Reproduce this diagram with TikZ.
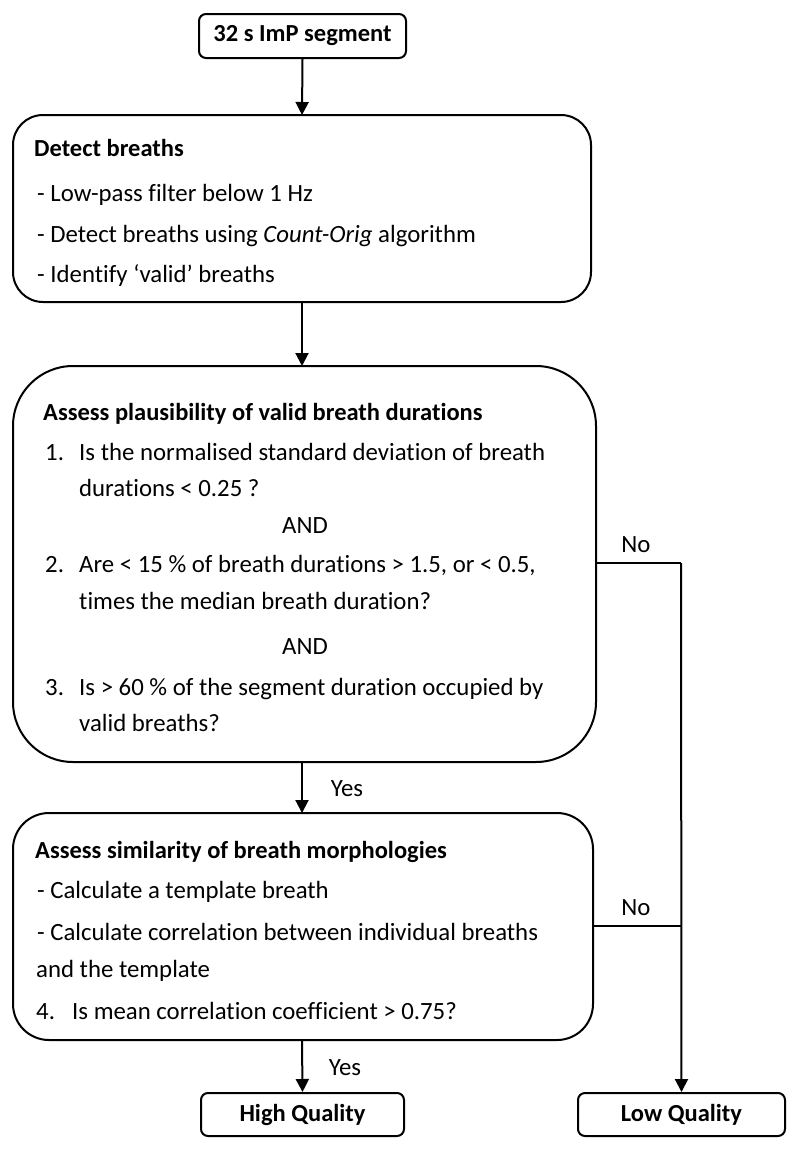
\documentclass[tikz,border=0pt]{standalone}
\usepackage{fontspec}
\setmainfont{Carlito}[Ligatures=NoCommon]
\usetikzlibrary{arrows.meta}
\begin{document}
\begin{tikzpicture}[x=1pt,y=-1pt,
  box/.style={draw,line width=2pt},
  txt/.style={anchor=base west,inner sep=0pt,font=\fontsize{24.8}{29}\selectfont},
  btxt/.style={txt,font=\fontsize{24.5}{29}\selectfont\bfseries},
  lab/.style={inner sep=0pt,font=\fontsize{24.8}{29}\selectfont},
  endbox/.style={box,rounded corners=7pt,minimum height=43pt,inner sep=0pt,font=\fontsize{24.5}{29}\selectfont\bfseries},
  arr/.style={line width=2pt,-{Triangle[width=13pt,length=13pt]}},
  ln/.style={line width=2pt}]
\useasboundingbox (0,0) rectangle (800,1152);
% boxes
\node[endbox,minimum width=207pt,minimum height=44pt] (seg) at (302.5,36) {32 s ImP segment};
\draw[box,rounded corners=30pt] (13,115) rectangle (591,302);
\coordinate (detT) at (302,115);
\coordinate (detB) at (302,302);
\draw[box,rounded corners=60pt] (13,366) rectangle (596,762);
\coordinate (plaT) at (302,366);
\coordinate (plaB) at (302,762);
\coordinate (plaR) at (596,563);
\draw[box,rounded corners=36pt] (13,813) rectangle (593,1040);
\coordinate (simT) at (302,813);
\coordinate (simB) at (302,1040);
\coordinate (simR) at (593,926);
\node[endbox,minimum width=203pt] (high) at (302.5,1114.5) {High Quality};
\node[endbox,minimum width=207pt] (low) at (681.5,1114.5) {Low Quality};
% texts box 1
\node[btxt] (t1) at (34,156) {Detect breaths};
\node[txt] (t2) at (37,201) {- Low-pass filter below 1 Hz};
\node[txt] (t3) at (37,242) {- Detect breaths using \textit{Count-Orig} algorithm};
\node[txt] (t4) at (37,282) {- Identify ‘valid’ breaths};
% box 2
\node[btxt] (p0) at (43,420) {Assess plausibility of valid breath durations};
\node[txt] (p1n) at (45,460) {1.};
\node[txt] (p1a) at (79,460) {Is the normalised standard deviation of breath};
\node[txt] (p1b) at (79,496) {durations < 0.25 ?};
\node[lab,anchor=base] (and1) at (305,533) {AND};
\node[txt] (p2n) at (45,572) {2.};
\node[txt] (p2a) at (79,572) {Are < 15 \% of breath durations > 1.5, or < 0.5,};
\node[txt] (p2b) at (79,609) {times the median breath duration?};
\node[lab,anchor=base] (and2) at (305,654) {AND};
\node[txt] (p3n) at (45,695) {3.};
\node[txt] (p3a) at (79,695) {Is > 60 \% of the segment duration occupied by};
\node[txt] (p3b) at (79,731) {valid breaths?};
% box 3
\node[btxt] (s0) at (35,858) {Assess similarity of breath morphologies};
\node[txt] (s1) at (37,898) {- Calculate a template breath};
\node[txt] (s2) at (37,940) {- Calculate correlation between individual breaths};
\node[txt] (s3) at (36,977) {and the template};
\node[txt] (s4n) at (36,1019) {4.};
\node[txt] (s4) at (72,1019) {Is mean correlation coefficient > 0.75?};
% connectors
\coordinate (j1) at (681,563);
\coordinate (j2) at (681,926);
\draw[arr] (seg.south) -- (detT);
\draw[arr] (detB) -- (plaT);
\draw[arr] (plaB) -- (simT);
\draw[arr] (simB) -- (high.north);
\draw[ln] (plaR) -- (j1);
\draw[ln] (simR) -- (j2);
\draw[arr] (j1) -- (low.north);
\node[lab] (yes1) at (347,789) {Yes};
\node[lab] (yes2) at (345,1068) {Yes};
\node[lab] (no1) at (636,545) {No};
\node[lab] (no2) at (636,908) {No};
\end{tikzpicture}
\end{document}
